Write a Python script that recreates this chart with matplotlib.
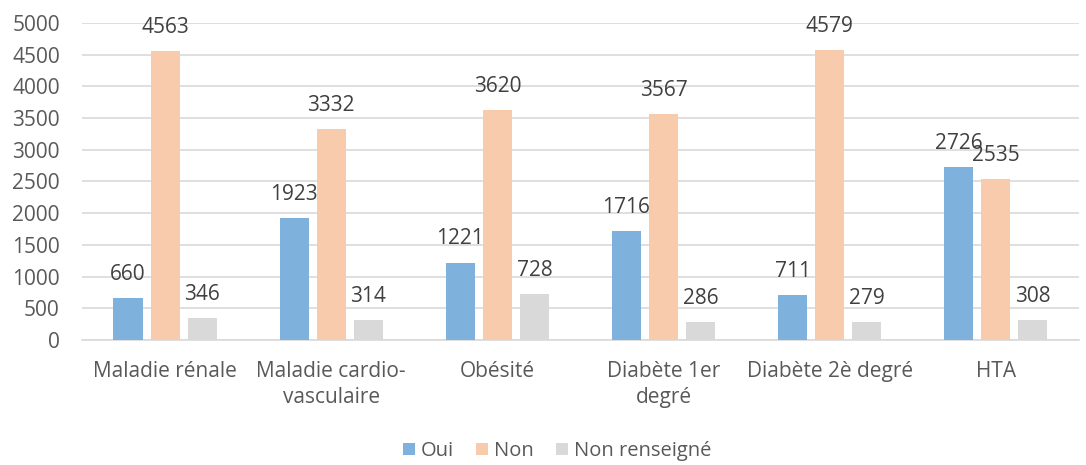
import numpy as np
import matplotlib.pyplot as plt

plt.rcParams['font.family'] = ['Open Sans', 'DejaVu Sans']

categories = ['Maladie rénale', 'Maladie cardio-\nvasculaire', 'Obésité',
              'Diabète 1er\ndegré', 'Diabète 2è degré', 'HTA']
oui = [660, 1923, 1221, 1716, 711, 2726]
non = [4563, 3332, 3620, 3567, 4579, 2535]
non_renseigne = [346, 314, 728, 286, 279, 308]

series = [('Oui', oui, '#7fb1dd'), ('Non', non, '#f8cbad'), ('Non renseigné', non_renseigne, '#d9d9d9')]

fig = plt.figure(figsize=(10.86, 4.65), dpi=100)
ax = fig.add_axes([0.0755, 0.269, 0.918, 0.6815])

x = np.arange(len(categories))
w = 0.175
step = 0.223
txt = '#404040'
fs = 15
for i, (name, vals, col) in enumerate(series):
    pos = x + (i - 1) * step
    bars = ax.bar(pos, vals, w, color=col, label=name, zorder=3)
    for b, v in zip(bars, vals):
        ax.annotate(str(v), (b.get_x() + b.get_width() / 2, v), xytext=(0, 13),
                    textcoords='offset points', ha='center', va='baseline',
                    fontsize=fs, color=txt)

ax.set_xlim(-0.5, len(categories) - 0.5)
ax.set_ylim(0, 5000)
ax.set_yticks(range(0, 5001, 500))
ax.set_xticks(x)
ax.set_xticklabels(categories, linespacing=1.35)
ax.yaxis.grid(True, color='#d9d9d9', linewidth=1.2, zorder=0)
for s in ['top', 'right', 'left']:
    ax.spines[s].set_visible(False)
ax.spines['bottom'].set_color('#d9d9d9')
ax.spines['bottom'].set_linewidth(1.2)
ax.tick_params(length=0, labelsize=fs, labelcolor='#595959')
ax.tick_params(axis='y', pad=16)
ax.tick_params(axis='x', pad=15)

fig.legend(loc='center', bbox_to_anchor=(0.513, 0.03), ncol=3, frameon=False,
           fontsize=14.5, handlelength=0.6, handleheight=0.6, handletextpad=0.3,
           columnspacing=1.1, labelcolor='#595959', borderpad=0)

fig.savefig('out.png', dpi=100)
